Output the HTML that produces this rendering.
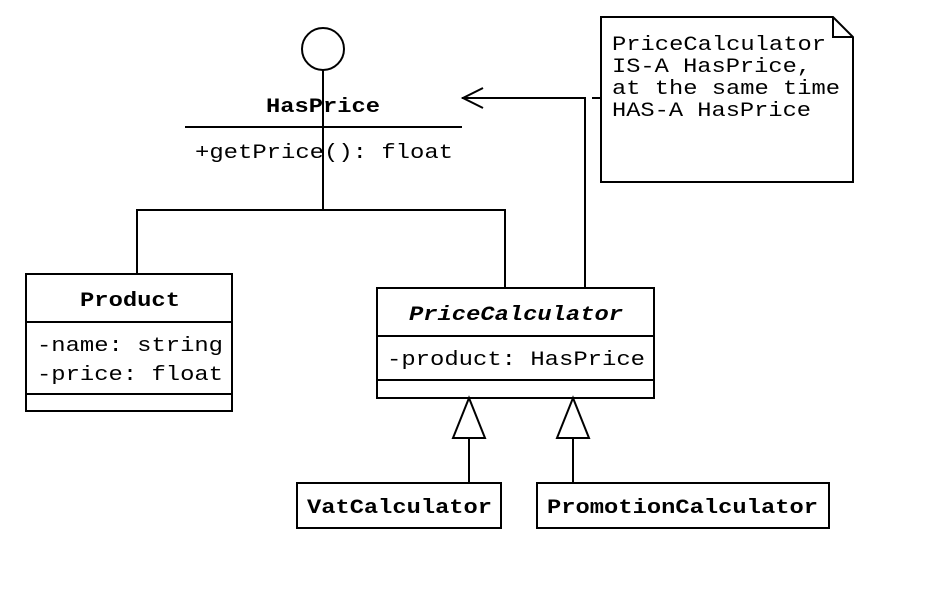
<!DOCTYPE html>
<html><head><meta charset="utf-8"><style>
html,body{margin:0;padding:0;background:#fff;}
svg{display:block;}
text{font-family:"Liberation Mono","Courier New",monospace;font-size:20px;fill:#000;}
.b{font-weight:bold;}
</style></head><body>
<svg width="928" height="610" viewBox="0 0 928 610" xmlns="http://www.w3.org/2000/svg">
<g stroke="#000" stroke-width="2" fill="none">
<circle cx="323" cy="49" r="21" fill="#fff"/>
<line x1="185" y1="127" x2="462" y2="127"/>
<line x1="323" y1="70" x2="323" y2="210"/>
<polyline points="137,274 137,210 505,210 505,288"/>
<polyline points="585,288 585,98 462,98"/>
<polyline points="483,88 463,98 483,108"/>
<line x1="592" y1="98" x2="600" y2="98"/>
<path d="M601,17 H833 L853,37 V182 H601 Z" fill="#fff"/>
<polyline points="833,17 833,37 853,37"/>
<rect x="26" y="274" width="206" height="137" fill="#fff"/>
<line x1="26" y1="322" x2="232" y2="322"/>
<line x1="26" y1="394" x2="232" y2="394"/>
<rect x="377" y="288" width="277" height="110" fill="#fff"/>
<line x1="377" y1="336" x2="654" y2="336"/>
<line x1="377" y1="380" x2="654" y2="380"/>
<polygon points="469,398 453,438 485,438" fill="#fff"/>
<line x1="469" y1="438" x2="469" y2="483"/>
<polygon points="573,398 557,438 589,438" fill="#fff"/>
<line x1="573" y1="438" x2="573" y2="483"/>
<rect x="297" y="483" width="204" height="45" fill="#fff"/>
<rect x="537" y="483" width="292" height="45" fill="#fff"/>
</g>
<text class="b" x="266" y="112" textLength="114" lengthAdjust="spacingAndGlyphs">HasPrice</text>
<text x="195" y="158" textLength="258" lengthAdjust="spacingAndGlyphs">+getPrice(): float</text>
<text class="b" x="80" y="306" textLength="100" lengthAdjust="spacingAndGlyphs">Product</text>
<text x="37" y="351" textLength="186" lengthAdjust="spacingAndGlyphs">-name: string</text>
<text x="37" y="380" textLength="186" lengthAdjust="spacingAndGlyphs">-price: float</text>
<text class="b" x="409" y="320" font-style="italic" textLength="214" lengthAdjust="spacingAndGlyphs">PriceCalculator</text>
<text x="387" y="365" textLength="258" lengthAdjust="spacingAndGlyphs">-product: HasPrice</text>
<text class="b" x="307" y="513" textLength="185" lengthAdjust="spacingAndGlyphs">VatCalculator</text>
<text class="b" x="547" y="513" textLength="271" lengthAdjust="spacingAndGlyphs">PromotionCalculator</text>
<text x="612" y="50" textLength="214" lengthAdjust="spacingAndGlyphs">PriceCalculator</text>
<text x="612" y="72" textLength="199" lengthAdjust="spacingAndGlyphs">IS-A HasPrice,</text>
<text x="612" y="94" textLength="228" lengthAdjust="spacingAndGlyphs">at the same time</text>
<text x="612" y="116" textLength="199" lengthAdjust="spacingAndGlyphs">HAS-A HasPrice</text>
</svg>
</body></html>
